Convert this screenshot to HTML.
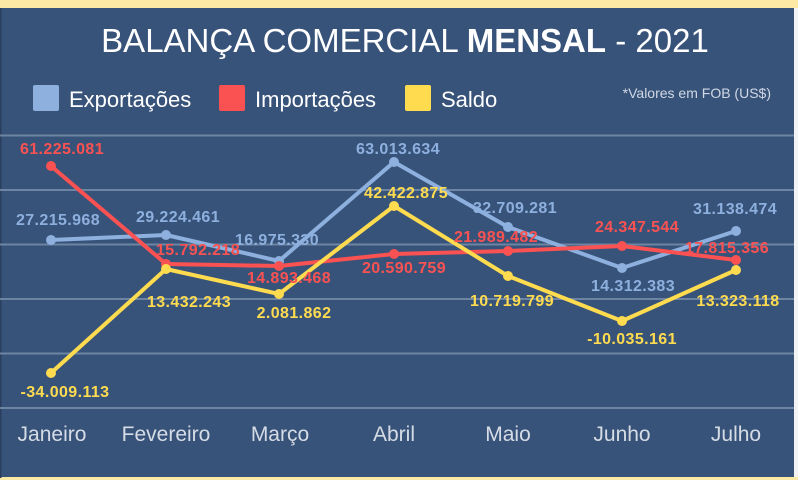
<!DOCTYPE html>
<html><head><meta charset="utf-8"><style>
html,body{margin:0;padding:0;background:#fff}
svg{display:block}
text{font-family:"Liberation Sans",sans-serif}
</style></head><body>
<svg width="798" height="480" viewBox="0 0 798 480">
<rect x="0" y="0" width="798" height="480" fill="#f4f4f4"/>
<rect x="0" y="0" width="794" height="480" fill="#385379"/>
<rect x="0" y="0" width="798" height="8" fill="#fde9a6"/>
<rect x="0" y="477" width="798" height="3" fill="#fde9a6"/>
<rect x="0" y="8" width="1.5" height="470" fill="#2a3f5e"/>
<text x="405" y="52" text-anchor="middle" font-size="33" fill="#fff">BALANÇA COMERCIAL <tspan font-weight="bold">MENSAL</tspan> - 2021</text>
<rect x="33" y="85" width="26" height="26" rx="2" fill="#8eb0df"/>
<text x="69" y="107" font-size="22" fill="#fff">Exportações</text>
<rect x="219" y="85" width="26" height="26" rx="2" fill="#fa5252"/>
<text x="255" y="107" font-size="22" fill="#fff">Importações</text>
<rect x="405" y="85" width="26" height="26" rx="2" fill="#fedb4f"/>
<text x="441" y="107" font-size="22" fill="#fff">Saldo</text>
<text x="771" y="98" text-anchor="end" font-size="14" fill="#d0d8e4">*Valores em FOB (US$)</text>
<g stroke="#6d84a3" stroke-width="2">
<line x1="0" y1="135.5" x2="794" y2="135.5"/>
<line x1="0" y1="190" x2="794" y2="190"/>
<line x1="0" y1="244.5" x2="794" y2="244.5"/>
<line x1="0" y1="299" x2="794" y2="299"/>
<line x1="0" y1="353.5" x2="794" y2="353.5"/>
<line x1="0" y1="408" x2="794" y2="408"/>
</g>
<g fill="none" stroke-width="4" stroke-linejoin="round">
<polyline stroke="#8eb0df" points="51,240 166,235 279,261 394,162 508,227 622,268 736,231"/>
<polyline stroke="#fa5252" points="51,166 166,264 279,266 394,254 508,251 622,246 736,260"/>
<polyline stroke="#fedb4f" points="51,373 166,269 279,294 394,206 508,276 622,321 736,270"/>
</g>
<g fill="#8eb0df"><circle cx="51" cy="240" r="5"/><circle cx="166" cy="235" r="5"/><circle cx="279" cy="261" r="5"/><circle cx="394" cy="162" r="5"/><circle cx="508" cy="227" r="5"/><circle cx="622" cy="268" r="5"/><circle cx="736" cy="231" r="5"/></g>
<g fill="#fa5252"><circle cx="51" cy="166" r="5"/><circle cx="166" cy="264" r="5"/><circle cx="279" cy="266" r="5"/><circle cx="394" cy="254" r="5"/><circle cx="508" cy="251" r="5"/><circle cx="622" cy="246" r="5"/><circle cx="736" cy="260" r="5"/></g>
<g fill="#fedb4f"><circle cx="51" cy="373" r="5"/><circle cx="166" cy="269" r="5"/><circle cx="279" cy="294" r="5"/><circle cx="394" cy="206" r="5"/><circle cx="508" cy="276" r="5"/><circle cx="622" cy="321" r="5"/><circle cx="736" cy="270" r="5"/></g>
<g font-size="16" font-weight="bold" text-anchor="middle" letter-spacing="0.4">
<g fill="#8eb0df">
<text x="58" y="225">27.215.968</text>
<text x="178" y="222">29.224.461</text>
<text x="277" y="245">16.975.330</text>
<text x="398" y="154">63.013.634</text>
<text x="515" y="213">32.709.281</text>
<text x="633" y="291">14.312.383</text>
<text x="735" y="214">31.138.474</text>
</g>
<g fill="#fa5252">
<text x="62" y="154">61.225.081</text>
<text x="198" y="255">15.792.218</text>
<text x="289" y="283">14.893.468</text>
<text x="404" y="273">20.590.759</text>
<text x="496" y="242">21.989.482</text>
<text x="637" y="232">24.347.544</text>
<text x="727" y="253">17.815.356</text>
</g>
<g fill="#fedb4f">
<text x="65" y="397">-34.009.113</text>
<text x="189" y="307">13.432.243</text>
<text x="294" y="318">2.081.862</text>
<text x="406" y="198">42.422.875</text>
<text x="512" y="306">10.719.799</text>
<text x="632" y="344">-10.035.161</text>
<text x="738" y="306">13.323.118</text>
</g>
</g>
<g font-size="21" fill="#d6dce6" text-anchor="middle">
<text x="52" y="441">Janeiro</text>
<text x="166" y="441">Fevereiro</text>
<text x="280" y="441">Março</text>
<text x="394" y="441">Abril</text>
<text x="508" y="441">Maio</text>
<text x="622" y="441">Junho</text>
<text x="736" y="441">Julho</text>
</g>
</svg>
</body></html>
